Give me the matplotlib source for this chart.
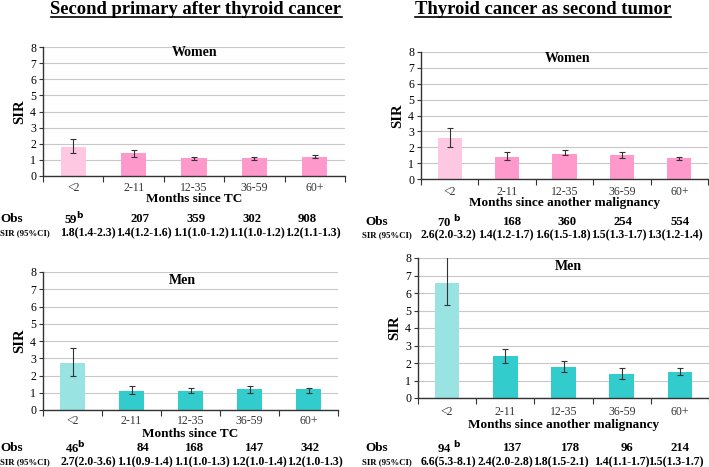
import matplotlib
matplotlib.use("Agg")
import matplotlib.pyplot as plt

plt.rcParams['font.family'] = ['Liberation Serif', 'DejaVu Serif']

categories = ["<2", "2-11", "12-35", "36-59", "60+"]

# Second primary after thyroid cancer
women_tc_sir = [1.8, 1.4, 1.1, 1.1, 1.2]
women_tc_lo = [1.4, 1.2, 1.0, 1.0, 1.1]
women_tc_hi = [2.3, 1.6, 1.2, 1.2, 1.3]
women_tc_obs = ["59$^{\\mathbf{b}}$", "207", "359", "302", "908"]

men_tc_sir = [2.7, 1.1, 1.1, 1.2, 1.2]
men_tc_lo = [2.0, 0.9, 1.0, 1.0, 1.0]
men_tc_hi = [3.6, 1.4, 1.3, 1.4, 1.3]
men_tc_obs = ["46$^{\\mathbf{b}}$", "84", "168", "147", "342"]

# Thyroid cancer as second tumor
women_st_sir = [2.6, 1.4, 1.6, 1.5, 1.3]
women_st_lo = [2.0, 1.2, 1.5, 1.3, 1.2]
women_st_hi = [3.2, 1.7, 1.8, 1.7, 1.4]
women_st_obs = ["70 $^{\\mathbf{b}}$", "168", "360", "254", "554"]

men_st_sir = [6.6, 2.4, 1.8, 1.4, 1.5]
men_st_lo = [5.3, 2.0, 1.5, 1.1, 1.3]
men_st_hi = [8.1, 2.8, 2.1, 1.7, 1.7]
men_st_obs = ["94 $^{\\mathbf{b}}$", "137", "178", "96", "214"]

W, H = 709, 467
fig = plt.figure(figsize=(W / 100, H / 100), dpi=100)

def px_ax(x0, y0, x1, y1):
    return [x0 / W, 1 - y1 / H, (x1 - x0) / W, (y1 - y0) / H]

def fx(x):
    return x / W

def fy(y):
    return 1 - y / H

def draw(rect, sir, lo, hi, obs, colors, label, label_xy, xlabel, xlabel_y,
         ticklab_y, sir_strs, obs_xs, sir_xs, obs_y, sir_y, obs_lab_x, sir_lab_x):
    ax = fig.add_axes(rect)
    xs = list(range(len(categories)))
    yerr = [[s - l for s, l in zip(sir, lo)], [h - s for s, h in zip(sir, hi)]]
    ax.bar(xs, sir, width=0.42, color=colors, zorder=2)
    ax.errorbar(xs, sir, yerr=yerr, fmt='none', ecolor='#333333',
                elinewidth=0.8, capsize=2, capthick=0.8, zorder=3)
    ax.set_xlim(-0.5, 4.5)
    ax.set_ylim(0, 8)
    ax.set_yticks(range(0, 9))
    ax.yaxis.grid(True, color='#c8c8c8', linewidth=0.8, zorder=0)
    ax.set_axisbelow(True)
    for s in ['top', 'right']:
        ax.spines[s].set_visible(False)
    for s in ['left', 'bottom']:
        ax.spines[s].set_color('#333333')
        ax.spines[s].set_linewidth(1.0)
    ax.set_xticks([-0.5, 0.5, 1.5, 2.5, 3.5, 4.5])
    ax.set_xticklabels([])
    ax.tick_params(axis='x', direction='out', length=4, color='#333333')
    ax.tick_params(axis='y', direction='out', length=3, color='#333333',
                   labelsize=8.5, pad=2)
    ax.set_ylabel("SIR", fontsize=10.5, fontweight='bold', labelpad=3)
    for i, c in enumerate(categories):
        x_fig = fig.transFigure.inverted().transform(
            ax.transData.transform((i, 0)))[0]
        fig.text(x_fig, fy(ticklab_y), c, ha='center', va='center',
                 fontsize=8.5, color='#333333')
    fig.text(fx(label_xy[0]), fy(label_xy[1]), label, ha='center',
             va='center', fontsize=10, fontweight='bold')
    x_mid = rect[0] + rect[2] / 2
    fig.text(x_mid, fy(xlabel_y), xlabel, ha='center', va='center',
             fontsize=9.5, fontweight='bold')
    fig.text(fx(obs_lab_x), fy(obs_y), "Obs", ha='left', va='center',
             fontsize=9.5, fontweight='bold')
    fig.text(fx(sir_lab_x), fy(sir_y), "SIR (95%CI)", ha='left', va='center',
             fontsize=6.3, fontweight='bold')
    for o, x in zip(obs, obs_xs):
        fig.text(fx(x), fy(obs_y), o, ha='center', va='center', fontsize=9.2,
                 fontweight='bold')
    for s, x in zip(sir_strs, sir_xs):
        fig.text(fx(x), fy(sir_y), s, ha='center', va='center', fontsize=8.5,
                 fontweight='bold')
    return ax

def sir_strings(sir, lo, hi):
    return [f"{s:.1f}({l:.1f}-{h:.1f})" for s, l, h in zip(sir, lo, hi)]

pink = ['#FFC8E2'] + ['#FF99CC'] * 4
teal = ['#99E3E3'] + ['#33CCCC'] * 4

# Top-left
draw(px_ax(43, 47, 345, 176), women_tc_sir, women_tc_lo, women_tc_hi,
     women_tc_obs, pink, "Women", (195, 53), "Months since TC", 199, 188,
     sir_strings(women_tc_sir, women_tc_lo, women_tc_hi),
     [74, 140, 196, 252, 307], [88, 144, 201, 257, 313], 219, 233, 0, 0)

# Top-right
draw(px_ax(421, 52, 708, 179), women_st_sir, women_st_lo, women_st_hi,
     women_st_obs, pink, "Women", (568, 58), "Months since another malignancy",
     203, 192, sir_strings(women_st_sir, women_st_lo, women_st_hi),
     [449, 512, 567, 623, 680], [448, 506, 563, 619, 675], 222, 235, 365, 362)

# Bottom-left
draw(px_ax(43, 272, 338, 410), men_tc_sir, men_tc_lo, men_tc_hi,
     men_tc_obs, teal, "Men", (182, 280), "Months since TC", 434, 421,
     sir_strings(men_tc_sir, men_tc_lo, men_tc_hi),
     [75, 143, 195, 255, 310], [88, 145, 202, 259, 315], 448, 462, 0, 0)

# Bottom-right
draw(px_ax(418, 258, 709, 398), men_st_sir, men_st_lo, men_st_hi,
     men_st_obs, teal, "Men", (568, 267), "Months since another malignancy",
     425, 412, sir_strings(men_st_sir, men_st_lo, men_st_hi),
     [449, 513, 570, 627, 680], [448, 505, 561, 622, 676], 448, 462, 365, 362)

# Titles (underlined)
for text, xc in [("Second primary after thyroid cancer", 196),
                 ("Thyroid cancer as second tumor", 543)]:
    t = fig.text(fx(xc), fy(9), text, ha='center', va='center',
                 fontsize=13.4, fontweight='bold')
    fig.canvas.draw()
    bb = t.get_window_extent()
    inv = fig.transFigure.inverted()
    (x0, y0), (x1, y1) = inv.transform([[bb.x0, bb.y0], [bb.x1, bb.y1]])
    fig.add_artist(plt.Line2D([x0, x1], [y0 + 0.002, y0 + 0.002],
                              transform=fig.transFigure, color='black',
                              linewidth=1.2))

fig.savefig("out.png", dpi=100)
